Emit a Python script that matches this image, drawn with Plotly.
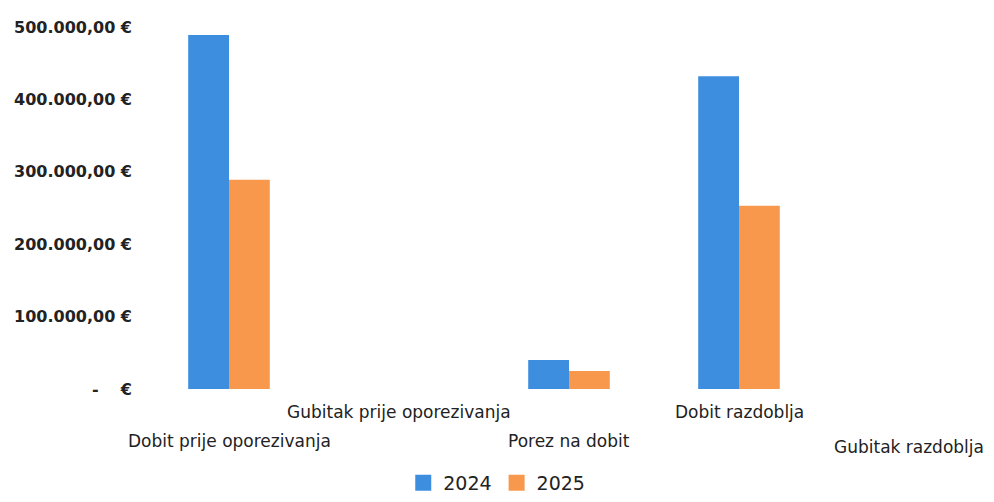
import plotly.graph_objects as go

kategorije = ["Dobit prije oporezivanja", "Gubitak prije oporezivanja",
              "Porez na dobit", "Dobit razdoblja", "Gubitak razdoblja"]
vrijednosti_2024 = [489000, 0, 40000, 432000, 0]
vrijednosti_2025 = [289000, 0, 25000, 253000, 0]
y_tickovi = [0, 100000, 200000, 300000, 400000, 500000]
y_oznake = ["-    €", "100.000,00 €", "200.000,00 €", "300.000,00 €",
            "400.000,00 €", "500.000,00 €"]

plava = "#3D8EDF"
narancasta = "#F8984C"

fig = go.Figure()
fig.add_trace(go.Bar(x=kategorije, y=vrijednosti_2024, name="2024",
                     marker_color=plava, marker_line_width=0, showlegend=False))
fig.add_trace(go.Bar(x=kategorije, y=vrijednosti_2025, name="2025",
                     marker_color=narancasta, marker_line_width=0, showlegend=False))
# legenda s vecim kvadraticima
for ime, boja in [("2024", plava), ("2025", narancasta)]:
    fig.add_trace(go.Scatter(x=[kategorije[0]], y=[None], mode="markers", name=ime,
                             marker=dict(symbol="square", size=16, color=boja)))

# oznake kategorija u dva reda (naizmjenicno)
for i, k in enumerate(kategorije):
    pomak = -23 if i % 2 else -52
    if i == 4:
        pomak = -58
    fig.add_annotation(x=k, y=0, xref="x", yref="y", text=k, showarrow=False,
                       yshift=pomak, yanchor="middle",
                       font=dict(family="DejaVu Sans", size=17, color="#222"))

fig.update_layout(
    width=986, height=494,
    margin=dict(l=136, r=0, t=19, b=112),
    paper_bgcolor="white", plot_bgcolor="white",
    barmode="group", bargap=0.52, bargroupgap=0,
    font=dict(family="DejaVu Sans", color="#222"),
    showlegend=True,
    legend=dict(orientation="h", x=0.415, xanchor="center",
                y=-0.26, yanchor="middle", itemsizing="trace",
                font=dict(size=19, family="DejaVu Sans")),
)
fig.update_xaxes(type="category", range=[-0.5, 4.5], showticklabels=False,
                 showgrid=False, zeroline=False, showline=False)
fig.update_yaxes(range=[0, 500000], tickvals=y_tickovi, ticktext=y_oznake,
                 showgrid=False, zeroline=False, showline=False,
                 automargin=False,
                 tickfont=dict(size=16, family="DejaVu Sans", color="#222",
                               weight="bold"),
                 ticklabelstandoff=11)

fig.write_html("out.html")
